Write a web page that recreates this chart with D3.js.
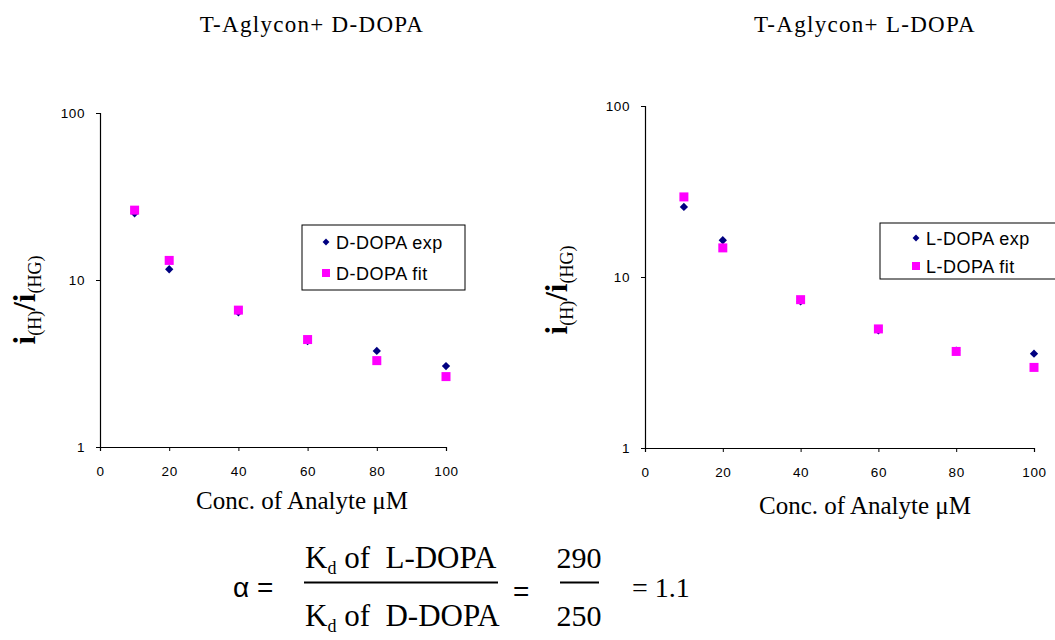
<!DOCTYPE html>
<html>
<head>
<meta charset="utf-8">
<script src="https://cdn.jsdelivr.net/npm/d3@7"></script>
<style>
  body { margin: 0; background: #fff; }
  svg { display: block; }
</style>
</head>
<body>
<div id="chart"></div>
<script>
var w = 1055, h = 640;

// data
var conc = [10, 20, 40, 60, 80, 100];
var dExp = [25.1, 11.6, 6.4, 4.3, 3.76, 3.05];
var dFit = [26.2, 13.1, 6.6, 4.4, 3.29, 2.64];
var lExp = [25.7, 16.4, 7.2, 4.87, 3.71, 3.56];
var lFit = [29.4, 14.8, 7.37, 4.97, 3.67, 2.96];
var xTicks = [0, 20, 40, 60, 80, 100];
var yTicks = [1, 10, 100];

var svg = d3.select("#chart").append("svg")
  .attr("width", w).attr("height", h);

var serif = "'Liberation Serif', 'Times New Roman', serif";
var sans = "'Liberation Sans', Arial, sans-serif";

var panels = [
  { title: "T-Aglycon+ D-DOPA", exp: dExp, fit: dFit, name: "D-DOPA",
    x0: 100, x1: 446, y0: 447, y1: 113, titleX: 312, ytX: 35, ytY: 300, xtX: 302, xtY: 509,
    leg: { x: 302, y: 225, w: 163, h: 65, r1: 242, r2: 273, mx: 326 } },
  { title: "T-Aglycon+ L-DOPA", exp: lExp, fit: lFit, name: "L-DOPA",
    x0: 645, x1: 1034, y0: 448, y1: 106, titleX: 865, ytX: 567, ytY: 290, xtX: 865, xtY: 514,
    leg: { x: 880, y: 223, w: 180, h: 56, r1: 238, r2: 266, mx: 916 } }
];

panels.forEach(function(p) {
  var g = svg.append("g");
  var x = d3.scaleLinear().domain([0, 100]).range([p.x0, p.x1]);
  var y = d3.scaleLog().domain([1, 100]).range([p.y0, p.y1]);

  g.append("text")
    .attr("x", p.titleX).attr("y", 32)
    .attr("text-anchor", "middle")
    .style("font-family", serif).style("font-size", "23px")
    .style("letter-spacing", "1.3px")
    .text(p.title);

  var xa = g.append("g")
    .attr("transform", "translate(0," + p.y0 + ")")
    .call(d3.axisBottom(x).tickValues(xTicks).tickSize(4).tickPadding(15).tickFormat(d3.format("d")));
  var ya = g.append("g")
    .attr("transform", "translate(" + p.x0 + ",0)")
    .call(d3.axisLeft(y).tickValues(yTicks).tickSize(4).tickPadding(11).tickFormat(d3.format("d")));

  [xa, ya].forEach(function(a) {
    a.select(".domain").attr("stroke", "#000").attr("stroke-width", 1.2);
    a.selectAll(".tick line").attr("stroke", "#000");
    a.selectAll(".tick text")
      .style("font-family", sans).style("font-size", "13.5px")
      .style("letter-spacing", "0.6px")
      .attr("fill", "#000");
  });

  // x-axis title
  g.append("text")
    .attr("x", p.xtX).attr("y", p.xtY)
    .attr("text-anchor", "middle")
    .style("font-family", serif).style("font-size", "25px")
    .text("Conc. of Analyte \u03BCM");

  // y-axis title
  var yt = g.append("text")
    .attr("transform", "translate(" + p.ytX + "," + p.ytY + ") rotate(-90)")
    .attr("text-anchor", "middle")
    .style("font-family", serif);
  yt.append("tspan").style("font-size", "31px").style("font-weight", "bold").text("i");
  yt.append("tspan").style("font-size", "18px").attr("dy", 6).text("(H)");
  yt.append("tspan").style("font-size", "31px").style("font-weight", "bold").attr("dy", -6).text("/i");
  yt.append("tspan").style("font-size", "18px").attr("dy", 6).text("(HG)");

  // markers
  g.selectAll(".exp").data(p.exp).enter().append("path")
    .attr("class", "exp")
    .attr("d", d3.symbol().type(d3.symbolDiamond2).size(44))
    .attr("transform", function(d, i) { return "translate(" + x(conc[i]) + "," + y(d) + ")"; })
    .attr("fill", "#000080");
  g.selectAll(".fit").data(p.fit).enter().append("rect")
    .attr("class", "fit")
    .attr("x", function(d, i) { return x(conc[i]) - 4.5; })
    .attr("y", function(d) { return y(d) - 4.5; })
    .attr("width", 9).attr("height", 9)
    .attr("fill", "#ff00ff");

  // legend
  var L = p.leg;
  g.append("rect")
    .attr("x", L.x).attr("y", L.y).attr("width", L.w).attr("height", L.h)
    .attr("fill", "#fff").attr("stroke", "#000").attr("stroke-width", 1);
  g.append("path")
    .attr("d", d3.symbol().type(d3.symbolDiamond2).size(30))
    .attr("transform", "translate(" + L.mx + "," + L.r1 + ")")
    .attr("fill", "#000080");
  g.append("rect")
    .attr("x", L.mx - 4).attr("y", L.r2 - 4).attr("width", 8).attr("height", 8)
    .attr("fill", "#ff00ff");
  [[L.r1, p.name + " exp"], [L.r2, p.name + " fit"]].forEach(function(r) {
    g.append("text")
      .attr("x", L.mx + 10).attr("y", r[0] + 6.5)
      .style("font-family", sans).style("font-size", "18px")
      .style("letter-spacing", "0.5px")
      .text(r[1]);
  });
});

// formula
var f = svg.append("g");
f.append("text").attr("x", 233).attr("y", 597)
  .style("font-family", sans).style("font-size", "28px").text("\u03B1 =");

function kd(yb, label) {
  var t = f.append("text").attr("x", 305).attr("y", yb)
    .style("font-family", serif).style("font-size", "31px").style("white-space", "pre");
  t.append("tspan").text("K");
  t.append("tspan").attr("dy", 6).style("font-size", "18px").text("d");
  t.append("tspan").attr("dy", -6).text(" of  " + label);
}
kd(568, "L-DOPA");
kd(626, "D-DOPA");
f.append("line").attr("x1", 304).attr("x2", 498).attr("y1", 582.5).attr("y2", 582.5)
  .attr("stroke", "#000").attr("stroke-width", 2);

f.append("text").attr("x", 513).attr("y", 601)
  .style("font-family", sans).style("font-size", "28px").text("=");

f.append("text").attr("x", 579).attr("y", 568).attr("text-anchor", "middle")
  .style("font-family", serif).style("font-size", "30px").text("290");
f.append("text").attr("x", 579).attr("y", 626).attr("text-anchor", "middle")
  .style("font-family", serif).style("font-size", "30px").text("250");
f.append("line").attr("x1", 560).attr("x2", 599).attr("y1", 582.5).attr("y2", 582.5)
  .attr("stroke", "#000").attr("stroke-width", 2);

f.append("text").attr("x", 632).attr("y", 597)
  .style("font-family", serif).style("font-size", "28px").text("= 1.1");
</script>
</body>
</html>
